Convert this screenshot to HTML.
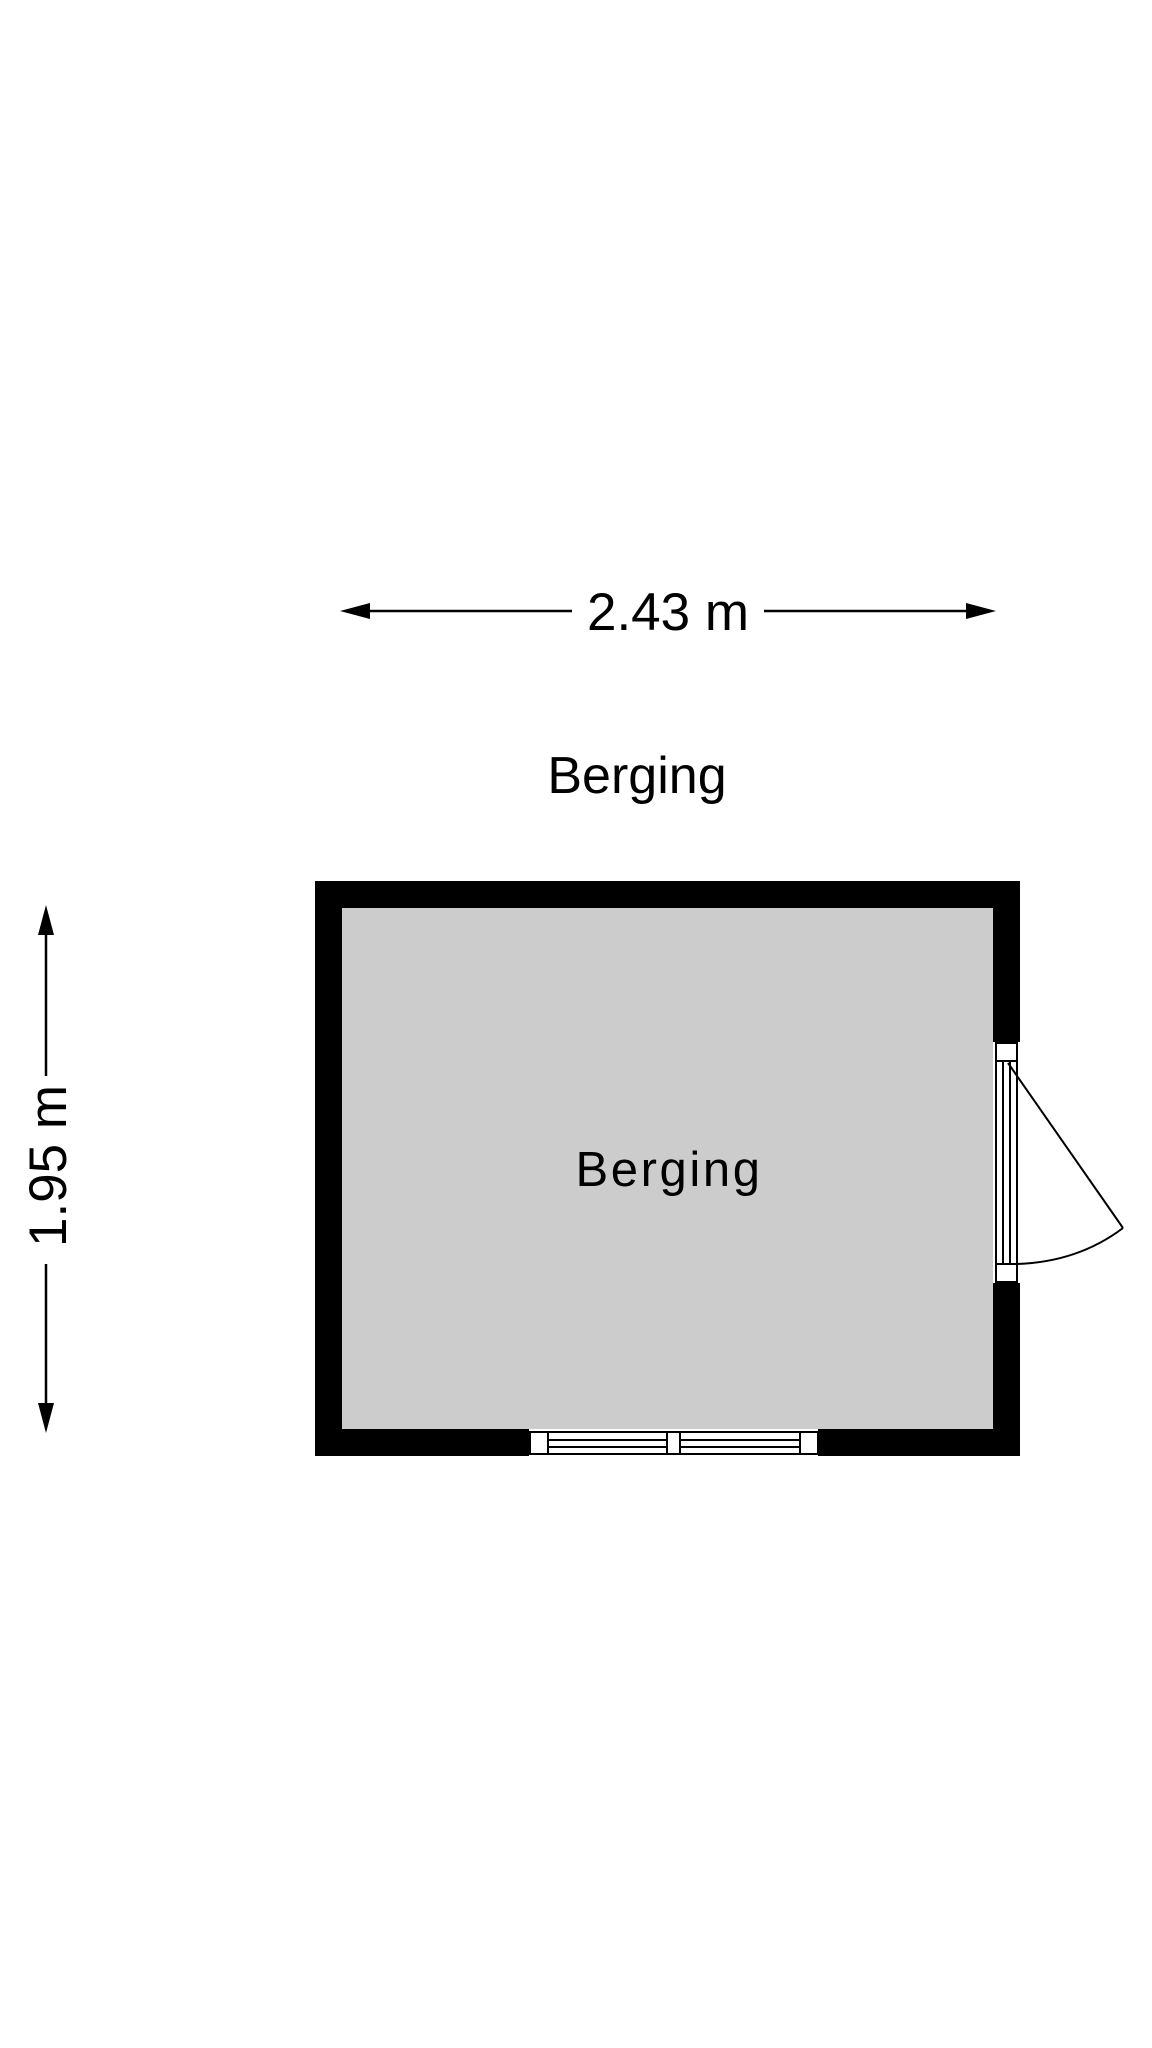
<!DOCTYPE html>
<html><head><meta charset="utf-8"><style>
html,body{margin:0;padding:0;background:#fff;}
svg{display:block;}
text{font-family:"Liberation Sans",sans-serif;fill:#000;}
</style></head><body>
<svg width="1152" height="2048" viewBox="0 0 1152 2048" xmlns="http://www.w3.org/2000/svg">
<line x1="360" y1="611" x2="572" y2="611" stroke="#000" stroke-width="2.5"/>
<line x1="764" y1="611" x2="975" y2="611" stroke="#000" stroke-width="2.5"/>
<polygon points="340,611 370,603 370,619" fill="#000"/>
<polygon points="996,611 966,603 966,619" fill="#000"/>
<text x="668" y="630" font-size="53" text-anchor="middle">2.43 m</text>
<line x1="46" y1="925" x2="46" y2="1076" stroke="#000" stroke-width="2.5"/>
<line x1="46" y1="1264" x2="46" y2="1413" stroke="#000" stroke-width="2.5"/>
<polygon points="46,905 38,935 54,935" fill="#000"/>
<polygon points="46,1433 38,1403 54,1403" fill="#000"/>
<text transform="translate(66,1166) rotate(-90)" font-size="53" text-anchor="middle">1.95 m</text>
<text x="637" y="793" font-size="52" text-anchor="middle">Berging</text>
<rect x="315" y="881" width="705" height="575" fill="#000"/>
<rect x="342" y="908" width="651" height="521" fill="#ccc"/>
<rect x="993" y="1042" width="27" height="241" fill="#fff"/>
<rect x="996" y="1043" width="21" height="18" fill="#fff" stroke="#000" stroke-width="2"/>
<rect x="996" y="1264" width="21" height="18" fill="#fff" stroke="#000" stroke-width="2"/>
<rect x="996" y="1061" width="21" height="203" fill="#fff" stroke="#000" stroke-width="2"/>
<line x1="1003" y1="1061" x2="1003" y2="1264" stroke="#000" stroke-width="2"/>
<line x1="1010" y1="1061" x2="1010" y2="1264" stroke="#000" stroke-width="2"/>
<line x1="1008" y1="1063" x2="1123" y2="1228" stroke="#000" stroke-width="2"/>
<path d="M1123,1228 Q1078,1262 1017,1264" fill="none" stroke="#000" stroke-width="2"/>
<rect x="529" y="1429" width="289" height="27" fill="#fff"/>
<rect x="530" y="1432" width="18" height="22" fill="#fff" stroke="#000" stroke-width="2"/>
<rect x="667" y="1432" width="13" height="22" fill="#fff" stroke="#000" stroke-width="2"/>
<rect x="800" y="1432" width="18" height="22" fill="#fff" stroke="#000" stroke-width="2"/>
<rect x="548" y="1432" width="119" height="22" fill="#fff" stroke="#000" stroke-width="2"/>
<rect x="680" y="1432" width="120" height="22" fill="#fff" stroke="#000" stroke-width="2"/>
<line x1="548" y1="1440" x2="667" y2="1440" stroke="#000" stroke-width="2"/>
<line x1="548" y1="1447" x2="667" y2="1447" stroke="#000" stroke-width="2"/>
<line x1="680" y1="1440" x2="800" y2="1440" stroke="#000" stroke-width="2"/>
<line x1="680" y1="1447" x2="800" y2="1447" stroke="#000" stroke-width="2"/>
<text x="669" y="1186" font-size="49" text-anchor="middle" letter-spacing="2.6">Berging</text>
</svg>
</body></html>
